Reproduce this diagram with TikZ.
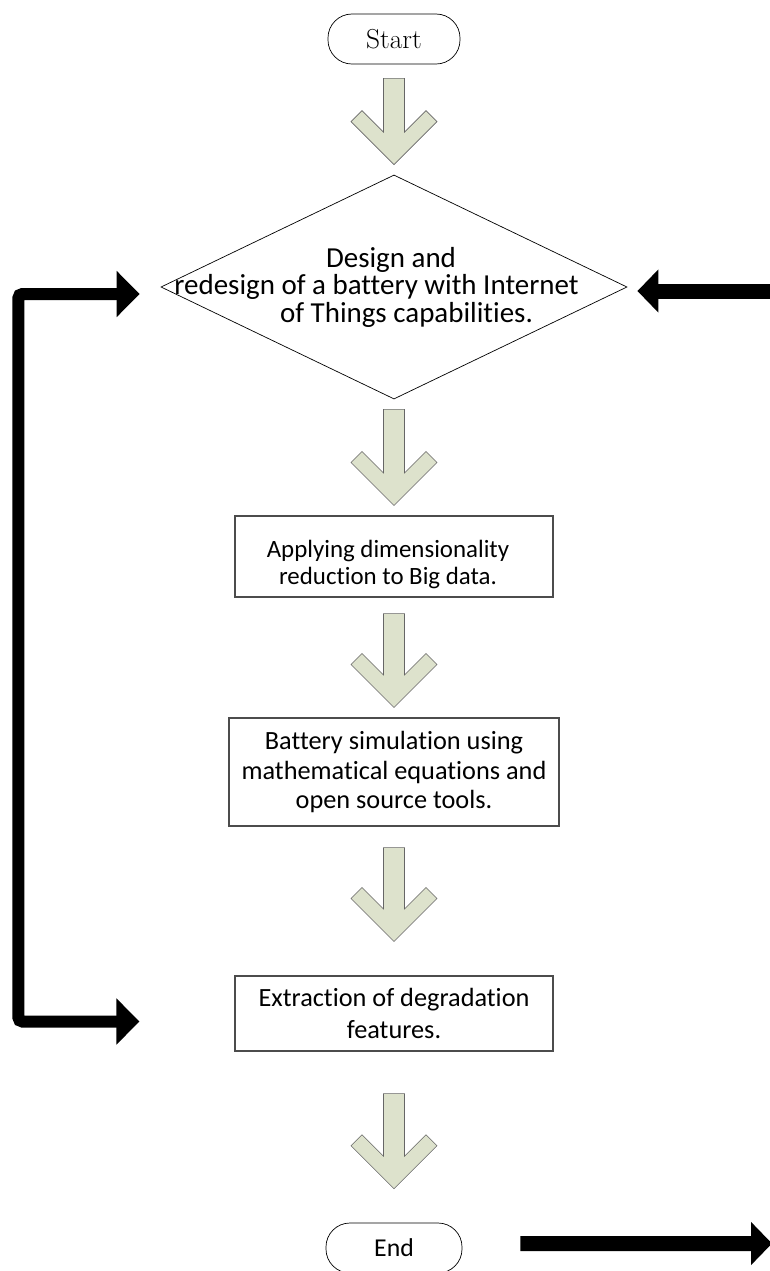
\documentclass[tikz,border=0pt]{standalone}
\usepackage{fontspec}
\newfontfamily\calibri[Ligatures=NoCommon]{Carlito}
\usetikzlibrary{calc, arrows.meta, shapes.geometric}
\definecolor{chevfill}{RGB}{221,226,204}
\tikzset{
  terminal/.style={draw, line width=0.5pt, rounded corners=0.6cm, minimum width=3.3cm, minimum height=1.25cm, inner sep=0pt},
  process/.style={draw=black!70, line width=0.8pt, align=center},
  decision/.style={draw, line width=0.5pt, diamond, minimum width=11.65cm, minimum height=5.6cm, inner sep=0pt},
  chevron/.style={fill=chevfill, draw=black!60, line width=0.4pt},
  fatarrow/.style={line width=0.375cm, -{Triangle[length=0.525cm, width=1.05cm]}},
  looparrow/.style={line width=0.3cm, rounded corners=0.1cm, {Triangle[length=0.575cm, width=1.125cm]}-{Triangle[length=0.575cm, width=1.125cm]}}
}
% block arrow between two nodes: from, to, gap below from, gap above to
\newcommand{\blockdown}[4]{%
  \filldraw[chevron] let \p1=($(#1.south)+(0,#3)$), \p2=($(#2.north)+(0,-#4)$) in
    ($(\x2,\y1)+(-10.5,0)$) -- ($(\x2,\y1)+(10.5,0)$) -- ($(\p2)+(10.5,-32.5)$)
    -- ($(\p2)+(32,-54)$) -- ($(\p2)+(43,-43)$) -- (\p2) -- ($(\p2)+(-43,-43)$)
    -- ($(\p2)+(-32,-54)$) -- ($(\p2)+(-10.5,-32.5)$) -- cycle;}
\begin{document}
\begin{tikzpicture}[x=0.025cm, y=-0.025cm]
\useasboundingbox (0,0) rectangle (770,1271);
\node[terminal, font=\fontsize{19.5}{20}\selectfont] (start) at (394,39) {Start};
\node[decision, label={[align=center, font={\calibri\fontsize{20.6}{19.6}\selectfont}]center:{Design and\hspace*{0.15cm}\null\\redesign of a battery with Internet\hspace*{0.875cm}\null\\\hspace*{0.625cm}of Things capabilities.}}] (design) at (394,287) {};
\node[process, minimum width=7.95cm, minimum height=2.025cm, font={\calibri\fontsize{17.7}{19.2}\selectfont}] (reduce) at (394,556.5) {\rule{0pt}{1.3em}Applying dimensionality\hspace*{0.3cm}\\reduction to Big data.\hspace*{0.3cm}};
\node[process, minimum width=8.25cm, minimum height=2.7cm, font={\calibri\fontsize{18.7}{21.3}\selectfont}] (simulate) at (394,772) {Battery simulation using\\mathematical equations and\\open source tools.};
\node[process, minimum width=7.95cm, minimum height=1.875cm, font={\calibri\fontsize{18.7}{22.8}\selectfont}] (extract) at (394,1013.5) {Extraction of degradation\\features.};
\node[terminal, minimum width=3.4cm, font={\calibri\fontsize{18.3}{20}\selectfont}] (end) at (394,1248) {End};

\blockdown{start}{design}{14}{10}
\blockdown{design}{reduce}{10}{10}
\blockdown{reduce}{simulate}{16}{10}
\blockdown{simulate}{extract}{21}{34}
\blockdown{extract}{end}{42}{34}

% feedback loop and outside arrows
\coordinate (backtop) at ($(design.west)+(-21,7)$);
\coordinate (backbot) at ($(extract.west)+(-95,8)$);
\draw[looparrow] (backbot) -- ++(-121,0) |- (backtop);
\coordinate (rtail) at (790,291);
\draw[fatarrow] (rtail) -- ($(design.east)+(10,4)$);
\coordinate (out) at (772,1243.5);
\draw[fatarrow] ($(end.east)+(58,-4.5)$) -- (out);
\end{tikzpicture}
\end{document}
